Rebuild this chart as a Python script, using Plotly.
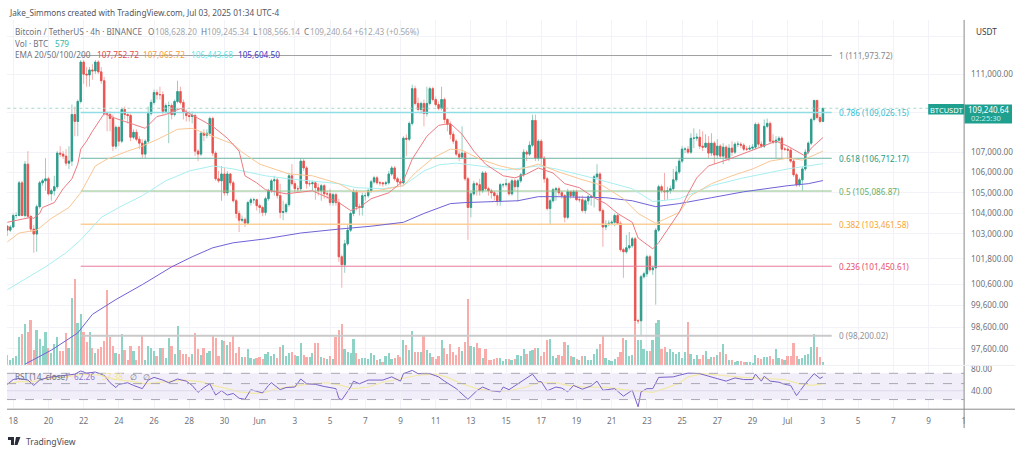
import math
import pandas as pd
import plotly.graph_objects as go

# 4h BTCUSDT candles
first_open = 103370
closes = [
    103180,103330,103890,103890,105490,103890,106420,103850,103230,102990,
    104320,105490,105590,105690,104950,105100,105300,106970,106920,106820,
    106470,106570,108920,108570,109590,111630,111000,110960,111220,111170,
    111630,111120,110660,108970,108920,108720,107320,108270,107570,109180,
    108920,108870,107770,108020,107670,107470,106920,107570,108970,109540,
    110050,109940,109940,109080,109380,109380,108920,109590,110100,109540,
    109020,108870,108820,108870,107070,106920,107970,107870,107970,108720,
    106970,105690,105590,105930,105000,105930,105490,104610,103990,103660,
    103700,103510,104520,104660,104660,104370,104280,104040,104710,105100,
    105590,105640,104860,104040,104080,104420,105840,105450,105200,105200,
    106570,106230,105450,105450,105490,105250,105100,105350,104950,104950,
    104520,104910,104520,101900,101520,102520,103180,103990,105050,104320,
    104280,104860,104860,105100,105540,105740,105490,105490,105450,105490,
    105930,106230,105690,105540,105490,107720,107670,108470,110250,109490,
    109180,109490,108970,109490,110250,109690,109430,109230,109690,108670,
    108420,107920,107570,106920,106770,106970,105690,104280,104950,105450,
    105400,105100,105980,105200,105100,105000,104860,104610,105400,105400,
    105450,104950,105590,105300,105590,105890,107020,106920,107370,108620,
    106720,107570,106720,105690,104230,104610,105150,105200,105000,104860,
    103800,105050,104860,105050,104660,104660,104130,104610,104810,104810,
    105790,105930,104130,103330,103470,103510,103560,103890,103510,102240,
    102140,102330,102430,102760,98890,98890,100950,101090,101900,101280,
    101370,103180,105300,105100,105050,105100,105200,105640,106030,106570,
    107170,107170,107020,107720,107720,107770,107320,107270,107470,106970,
    107470,106870,107320,106820,107270,106720,107220,107020,107420,107420,
    107370,107170,107170,107220,107270,108420,107420,107320,108320,108470,
    107570,107520,107620,107720,107170,107170,107120,106570,105890,105400,
    105640,106180,107020,107470,108670,109640,108770,108570,109240.64,
]
highs = [
    103420,103420,103990,104040,105590,105590,106570,107070,103890,103420,
    104420,105590,105690,106720,105790,105200,105840,107070,107320,107070,
    107170,107320,109430,109330,109690,111730,111730,111370,111370,111520,
    111730,111730,111370,110860,109080,109080,108920,108370,108320,109280,
    109330,108970,108970,108170,108170,107820,107670,107670,109330,109690,
    110200,110200,110350,110100,109490,109590,109490,109690,110660,110350,
    109690,109180,109080,109080,108970,107170,108070,108170,108170,108820,
    108820,107070,106080,106330,106230,106080,105980,105590,104710,104130,
    103890,103800,104610,104760,104760,104710,104470,104370,104810,105200,
    105690,105840,105740,105450,104610,104520,105980,106420,105590,105350,
    106720,106670,106330,105590,105590,105590,105450,105450,105450,105100,
    105200,105000,105000,104710,102000,102710,103420,104080,105200,105150,
    104470,105000,105000,105200,105640,105840,105840,105590,105540,105590,
    106080,106330,106330,105790,105690,107820,107920,108570,110450,110400,
    109790,109590,109690,110350,110350,110350,109840,109590,110350,109790,
    108720,108570,108070,107670,107070,108320,107070,105790,105050,105590,
    105540,105690,106080,106080,105300,105200,105100,105000,105490,105490,
    105690,105540,105690,105690,105690,105980,107170,107120,107570,108920,
    108920,107670,107670,106820,105790,104710,105250,105300,105300,105100,
    104950,105200,105100,105150,105150,104810,104860,104710,104910,104910,
    105890,106420,106030,104230,103660,103660,103660,103990,103990,103610,
    102330,102950,103090,102850,102850,98980,101040,101190,102000,102000,
    101470,103280,105400,105400,105980,105300,105350,106180,106330,106720,
    107320,107270,107320,107970,108220,107970,108170,108070,107920,107820,
    107970,107570,107670,107420,107470,107370,107420,107570,107520,107570,
    107520,107470,107320,107370,107420,108520,108520,107570,108670,108720,
    108570,107920,107820,107820,107820,107270,107270,107220,106670,105980,
    105740,106280,107170,107570,108770,109690,109690,108920,109245.34,
]
lows = [
    102900,103090,103280,103750,103850,103850,103800,103750,103090,102090,
    102140,104230,105350,105100,104860,104610,104860,105200,106770,106670,
    106330,106180,106330,107820,107820,109490,110500,110350,110350,110710,
    111010,111010,110500,108870,108070,108070,107070,107170,107320,107470,
    108670,108470,107570,107670,107570,107170,106720,106720,107470,108870,
    109430,109690,109690,108920,108970,107470,108670,108820,109490,109430,
    108670,108570,108570,108470,106820,106570,106820,107570,107720,107820,
    106820,105590,105490,104610,104860,104860,105350,104520,103750,103090,
    103560,103330,103420,104370,104470,104130,103990,103850,103890,104610,
    105000,104860,104710,103750,103660,103990,104320,105350,105000,105000,
    105100,106080,105200,105300,105100,104660,104860,104610,104710,104710,
    104370,104370,104370,101660,100430,101140,102430,103090,103850,104130,
    103890,103890,104610,104760,105000,105450,105400,105350,105300,105350,
    105400,105840,105590,105350,105300,105400,106820,107570,108370,109380,
    109080,108970,108320,108820,109380,109590,109330,109130,109130,108470,
    108070,107670,107420,106820,106570,106670,105590,102710,103800,104860,
    104860,104860,105000,105100,104860,104710,104610,104370,104370,105250,
    105300,104860,104860,105100,104570,105490,105790,106570,106820,107270,
    106570,106570,106380,105490,104130,103420,104520,104610,104860,104710,
    103560,103700,104710,104760,104610,104520,104040,103990,104420,104370,
    104280,105690,104040,102380,103180,103370,103420,103370,103420,102140,
    100900,102050,102240,102330,98800,98750,98230,100860,100950,101190,
    101040,99640,103090,105000,104610,104660,104950,105100,105540,105930,
    106470,106970,106920,106920,107220,107570,107170,107070,107220,106720,
    106820,106420,106720,106670,106420,106570,106570,106820,106920,107270,
    107220,107070,107070,107120,107120,107170,107270,107220,107220,108220,
    107470,107420,106720,107520,106670,107070,106670,106470,105790,105300,
    105300,105100,106080,106920,107370,108570,108670,108470,108566.14,
]
volumes = [
    1760,910,1280,1600,4640,5120,6720,5440,7360,2560,
    5760,4320,3200,5440,2880,2080,3520,4640,2400,2400,
    5280,2880,10880,13920,6880,8320,5440,3840,5440,2880,
    2080,2720,3040,4000,12160,4640,3200,2080,1920,5120,
    2560,960,3200,2400,800,3200,4800,960,3200,2880,
    2400,1600,2880,2880,1280,4480,3200,1920,6400,2560,
    1920,1920,1440,1920,5280,2720,1760,2880,2080,2400,
    4800,4480,1600,4160,4000,3360,3840,4800,2080,3040,
    1440,1440,2720,1280,1120,1280,1440,1120,1920,2240,
    1600,1920,1280,3040,3360,1600,2080,2240,1760,1600,
    3680,1760,1440,1440,2080,3680,3680,1440,1280,1120,
    1600,1120,4640,5760,6720,2720,2240,2080,4320,2080,
    1120,1280,1280,1120,2080,1760,800,1120,480,1600,
    2080,1120,1280,1760,1440,4160,3360,2560,5600,2240,
    2240,2240,4960,2560,2080,1440,1120,1600,4160,2880,
    1920,3520,2240,1760,3040,2400,3840,10720,3200,3040,
    3680,2880,1280,2720,960,800,1120,1280,1280,640,
    1120,1120,960,1120,1760,1600,2720,1920,2400,2560,
    2880,2880,1600,2240,4160,4320,1600,1280,1760,1600,
    3840,3360,1600,1440,1120,800,1600,1600,960,960,
    1920,2720,3520,4960,1280,800,640,1120,1440,2240,
    4480,4160,1600,1760,7040,4160,4160,2720,2400,2400,
    4160,6880,7360,2720,3040,2240,2720,2240,1920,2240,
    1280,2240,7040,1920,1120,1760,1120,1760,2400,1120,
    1440,1440,1760,2240,3520,1920,800,800,480,640,
    640,480,480,480,320,1760,1280,1120,1440,1440,
    1600,1120,2720,1280,1120,960,1600,1600,3680,1600,
    1120,1280,1760,1920,3040,5120,3040,1440,579,
]

# moving averages, read at the candles listed in each *_at list
ema20_at = [0,8,9,11,12,16,19,22,24,25,27,29,33,37,43,47,51,54,59,64,70,75,79,81,85,88,95,104,113,117,120,124,130,135,138,143,147,151,155,159,163,169,173,177,181,186,190,195,200,204,208,213,215,220,222,229,232,235,239,246,255,262,266,272,274,278]
ema20 = [103560,103800,103750,103990,104280,104520,105200,105690,106420,107170,107570,108070,108970,108720,108420,108220,108820,108920,109230,108820,108320,107720,107070,105840,105490,105150,104950,105100,104520,104130,104280,104710,105000,105590,106670,107820,108370,108470,107920,107070,106420,105840,105740,105930,106230,105980,105450,105250,104760,104470,103990,103560,102800,102280,102570,104040,104950,105740,106330,106670,107170,107570,107320,106820,107220,107752.72]
ema50_at = [0,4,10,15,21,25,30,34,41,46,52,58,63,70,77,80,86,96,104,113,118,124,130,135,139,145,151,155,161,168,174,181,187,195,203,210,215,221,229,233,240,247,254,260,266,271,278]
ema50 = [102610,103040,103180,103750,104280,105000,106330,106670,107070,107320,107720,108170,108220,107820,107420,107020,106420,105930,105840,105450,105050,105050,105200,105350,105980,106720,107170,107120,106670,106330,106130,106420,106080,105690,105350,104710,103990,103510,104040,104860,105450,105840,106180,106570,106720,106620,107065.72]
ema100_at = [0,7,13,20,25,32,38,46,54,62,70,77,88,96,113,119,128,135,142,147,153,161,170,181,187,198,213,220,229,234,240,251,266,278]
ema100 = [100340,100900,101420,102090,102710,103800,104280,104860,105590,106080,106330,106180,105840,105690,105450,105250,105200,105350,106080,106380,106470,106330,106130,106330,106180,105790,105200,104570,104710,105000,105350,105740,106180,106443.68]
ema200_at = [6,15,24,29,37,46,56,63,70,77,88,100,113,124,135,142,151,156,166,174,181,187,204,213,221,229,240,251,266,273,278]
ema200 = [96900,97540,98330,99190,99880,100580,101420,101900,102330,102570,102760,103040,103230,103370,103560,103990,104470,104520,104570,104610,104810,104810,104760,104610,104320,104470,104760,105050,105350,105450,105604.50]

rsi_at = [0,2,4,7,9,11,14,17,20,23,25,27,30,33,35,37,38,41,43,46,48,50,53,55,58,61,63,65,67,69,71,73,75,77,79,81,83,87,89,90,93,95,98,100,102,105,108,111,112,113,114,117,118,120,123,128,131,134,135,138,140,144,147,149,153,157,160,162,165,168,169,171,174,177,179,181,182,184,187,189,191,193,196,199,201,203,207,210,213,215,216,218,220,222,227,229,232,236,238,240,242,245,248,251,254,255,257,258,260,263,265,267,269,272,275,277,278]
rsi = [52,61,63,60,50,60,65,67,69,71,77,73,75,69,55,46,52,55,50,44,60,65,60,55,62,58,50,37,46,53,32,40,32,35,26,24,42,36,50,55,42,46,47,62,53,52,48,46,44,26,23,47,58,53,60,60,66,58,72,78,72,72,66,58,44,24,40,47,40,38,47,42,53,63,71,57,57,40,47,45,38,50,43,49,58,41,44,30,41,10,38,44,44,65,66,69,73,72,69,65,62,58,64,61,61,71,58,67,58,56,52,50,31,53,72,63,66]
rsi_ma_at = [0,4,9,13,20,26,32,37,43,47,54,60,66,70,75,79,84,87,92,97,103,109,113,118,123,128,135,140,146,150,155,160,166,171,177,181,187,191,197,204,210,215,220,224,229,232,237,243,251,258,265,270,274,278]
rsi_ma = [53,57,57,63,66,71,69,61,57,53,57,60,57,50,44,38,35,36,44,48,53,55,51,44,47,56,63,69,71,65,53,44,39,40,47,55,55,50,47,47,42,39,37,44,54,66,72,69,65,63,61,53,50,53]

# fib retracement
fib_levels = ["1", "0.786", "0.618", "0.5", "0.382", "0.236", "0"]
fib_prices = [111973.72, 109026.15, 106712.17, 105086.87, 103461.58, 101450.61, 98200.02]
fib_line_colors = ["#a0a0a0", "#8fdde6", "#6bb5a5", "#8ec48a", "#fbcf95", "#e8799a", "#c9c9c9"]
fib_text_colors = ["#85888f", "#35bcd0", "#1f9c85", "#68ad63", "#f7a531", "#ea4d6e", "#8f9198"]
fib_widths = [1, 1.5, 1, 1, 1.5, 1, 2]
fib_start = "2025-05-21 20:00"
fib_end = "2025-07-03 12:00"
last_price = 109240.64

price_ticks = [113000, 111000, 109000, 107000, 106000, 105000, 104000, 103000, 101800, 100600, 99600, 98600, 97600]
price_tick_text = ["", "111,000.00", "", "107,000.00", "106,000.00", "105,000.00", "104,000.00", "103,000.00",
                   "101,800.00", "100,600.00", "99,600.00", "98,600.00", "97,600.00"]
date_ticks = ["2025-05-18","2025-05-20","2025-05-22","2025-05-24","2025-05-26","2025-05-28","2025-05-30",
              "2025-06-01","2025-06-03","2025-06-05","2025-06-07","2025-06-09","2025-06-11","2025-06-13",
              "2025-06-15","2025-06-17","2025-06-19","2025-06-21","2025-06-23","2025-06-25","2025-06-27",
              "2025-06-29","2025-07-01","2025-07-03","2025-07-05","2025-07-07","2025-07-09","2025-07-11"]
date_tick_text = ["18","20","22","24","26","28","30","Jun","3","5","7","9","11","13","15","17","19","21","23",
                  "25","27","29","Jul","3","5","7","9","1"]

FONT = "Noto Sans"
GREEN = "#2b9c8c"
RED = "#e8534f"
W, H = 1024, 454

dates = pd.date_range("2025-05-17 16:00", periods=len(closes), freq="4h")
opens = [first_open] + closes[:-1]
vol_colors = ["#8fd3c7" if c >= o else "#f9adab" for o, c in zip(opens, closes)]
body_tops = [max(o, c) for o, c in zip(opens, closes)]
body_bottoms = [min(o, c) for o, c in zip(opens, closes)]


def px_x(x):
    return x / W


def px_y(y):
    return 1 - y / H


def text_at(x, y, s, color="#6f727b", size=8.2, anchor="left"):
    return dict(x=px_x(x), y=px_y(y), xref="paper", yref="paper", text=s, showarrow=False,
                xanchor=anchor, yanchor="middle", font=dict(family=FONT, size=size, color=color))


fig = go.Figure()

fig.add_trace(go.Bar(x=dates, y=volumes, marker=dict(color=vol_colors, line_width=0), width=2.0 / 2.94 * 4 * 3600 * 1000,
                     xaxis="x", yaxis="y"))

for price, color, width in zip(fib_prices, fib_line_colors, fib_widths):
    fig.add_trace(go.Scatter(x=[fib_start, fib_end], y=[price, price], mode="lines",
                             line=dict(color=color, width=width), xaxis="x", yaxis="y2"))

fig.add_trace(go.Scatter(x=[dates[0], "2025-07-10"], y=[last_price, last_price], mode="lines",
                         line=dict(color="#a9d8cf", width=1, dash="dot"), xaxis="x", yaxis="y2"))

# wicks are paler than the bodies, so they get their own trace underneath
fig.add_trace(go.Candlestick(x=dates, open=opens, high=highs, low=lows, close=closes,
                             increasing=dict(line=dict(color="#7cc0b3", width=0.8), fillcolor="#7cc0b3"),
                             decreasing=dict(line=dict(color="#f09a96", width=0.8), fillcolor="#f09a96"),
                             whiskerwidth=0, xaxis="x", yaxis="y2"))
fig.add_trace(go.Candlestick(x=dates, open=opens, high=body_tops, low=body_bottoms, close=closes,
                             increasing=dict(line=dict(color=GREEN, width=0.8), fillcolor=GREEN),
                             decreasing=dict(line=dict(color=RED, width=0.8), fillcolor=RED),
                             whiskerwidth=0, xaxis="x", yaxis="y2"))

for at, vals, color in [(ema200_at, ema200, "#6f62d6"), (ema100_at, ema100, "#a8eef0"),
                        (ema50_at, ema50, "#f9c694"), (ema20_at, ema20, "#ec7a80")]:
    fig.add_trace(go.Scatter(x=dates[at], y=vals, mode="lines", line=dict(color=color, width=1),
                             xaxis="x", yaxis="y2"))

fig.add_trace(go.Scatter(x=dates[rsi_ma_at], y=rsi_ma, mode="lines", line=dict(color="#f3e9a6", width=1.2),
                         xaxis="x", yaxis="y3"))
fig.add_trace(go.Scatter(x=dates[rsi_at], y=rsi, mode="lines", line=dict(color="#7a62c8", width=1),
                         xaxis="x", yaxis="y3"))

# layout: panes sit at fixed pixel rows
x_dom = [7 / W, 966 / W]
main_dom = [1 - 365 / H, 1 - 18 / H]
rsi_dom = [1 - 409 / H, 1 - 365 / H]
grid = "#f1f3f8"

shapes = [
    dict(type="rect", xref="x", yref="y3", x0="2025-05-17 15:30", x1="2025-07-11 00:30", y0=23.6, y1=72.6,
         fillcolor="rgba(126,87,194,0.10)", line_width=0, layer="below"),
    dict(type="line", xref="paper", yref="y3", x0=x_dom[0], x1=x_dom[1], y0=40, y1=40, line=dict(color="#ddd8ea", width=1)),
]
for level in [72.6, 53.4, 23.6]:
    shapes.append(dict(type="line", xref="paper", yref="y3", x0=x_dom[0], x1=x_dom[1], y0=level, y1=level,
                       line=dict(color="#aaa7b6", width=1, dash="dash")))
# axis frame and the price flags
shapes += [
    dict(type="line", xref="paper", yref="paper", x0=966 / W, x1=966 / W, y0=px_y(18), y1=px_y(428), line=dict(color="#8a8a8a", width=1)),
    dict(type="line", xref="paper", yref="paper", x0=7 / W, x1=1017 / W, y0=px_y(409), y1=px_y(409), line=dict(color="#8a8a8a", width=1)),
    dict(type="line", xref="paper", yref="paper", x0=7 / W, x1=1017 / W, y0=px_y(365), y1=px_y(365), line=dict(color="#eef0f4", width=1)),
    dict(type="rect", xref="paper", yref="paper", x0=930 / W, x1=966 / W, y0=px_y(113), y1=px_y(102.5), fillcolor="#1fa08f", line_width=0),
    dict(type="rect", xref="paper", yref="paper", x0=966.5 / W, x1=1014 / W, y0=px_y(122), y1=px_y(103), fillcolor="#1fa08f", line_width=0),
    # TradingView logo
    dict(type="path", xref="paper", yref="paper", fillcolor="#2a2e39", line_width=0,
         path=f"M {px_x(8)} {px_y(437)} L {px_x(14)} {px_y(437)} L {px_x(14)} {px_y(445)} L {px_x(11)} {px_y(445)} "
              f"L {px_x(11)} {px_y(440)} L {px_x(8)} {px_y(440)} Z"),
    dict(type="path", xref="paper", yref="paper", fillcolor="#2a2e39", line_width=0,
         path=f"M {px_x(16)} {px_y(437)} L {px_x(20.5)} {px_y(437)} L {px_x(17.5)} {px_y(445)} L {px_x(14.5)} {px_y(445)} Z"),
]

annotations = [
    text_at(7, 11, "Jake_Simmons created with TradingView.com, Jul 03, 2025 01:34 UTC-4", "#53565f", 8.2),
    text_at(13, 30, "Bitcoin / TetherUS · 4h · BINANCE", "#6f727b"),
    text_at(146, 30, "O", "#6f727b"), text_at(153, 30, "108,628.20", "#a3a5ab"),
    text_at(199, 30, "H", "#6f727b"), text_at(205, 30, "109,245.34", "#a3a5ab"),
    text_at(251, 30, "L", "#6f727b"), text_at(257, 30, "108,566.14", "#a3a5ab"),
    text_at(303, 30, "C", "#6f727b"), text_at(309, 30, "109,240.64", "#a3a5ab"),
    text_at(353, 30, "+612.43 (+0.56%)", "#a3a5ab"),
    text_at(13, 42, "Vol · BTC", "#6f727b"), text_at(53, 42, "579", "#3eb5a2"),
    text_at(13, 53, "EMA 20/50/100/200", "#6f727b"),
    text_at(95, 53, "107,752.72", "#e5484d"), text_at(141, 53, "107,065.72", "#f79b3c"),
    text_at(189, 53, "106,443.68", "#5fe6ea"), text_at(236, 53, "105,604.50", "#3f35c8"),
    text_at(13, 376, "RSI (14, close)", "#6f727b"), text_at(72, 376, "62.26", "#8d76d0"),
    text_at(100, 376, "57.38", "#f1e38f"),
    text_at(128, 376, "∅", "#6f727b", 8), text_at(141, 376, "∅", "#6f727b", 8),
    text_at(24, 442, "TradingView", "#4a4d57", 8.6),
    text_at(976, 30, "USDT", "#3a3d46", 8.2),
    text_at(948, 108, "BTCUSDT", "#ffffff", 7.5, "center"),
    text_at(990, 108, "109,240.64", "#ffffff", 8, "center"),
    text_at(988, 117, "02:25:30", "#c6ebe5", 7.5, "center"),
]
for level, price, color in zip(fib_levels, fib_prices, fib_text_colors):
    # annotations on a log axis take log10 of the value
    annotations.append(dict(x=fib_end, y=math.log10(price), xref="x", yref="y2", xshift=5,
                            text=f"{level} ({price:,.2f})", showarrow=False, xanchor="left", yanchor="middle",
                            font=dict(family=FONT, size=8.2, color=color)))

fig.update_layout(
    width=W, height=H, margin=dict(l=0, r=0, t=0, b=0), autosize=False,
    paper_bgcolor="white", plot_bgcolor="white", showlegend=False, bargap=0,
    font=dict(family=FONT, size=8.2, color="#6f727b"),
    xaxis=dict(domain=x_dom, anchor="y3", type="date", range=["2025-05-17 15:30", "2025-07-11 00:30"],
               tickvals=date_ticks, ticktext=date_tick_text, tickangle=0, ticks="", ticklabelstandoff=6,
               showgrid=True, gridcolor=grid, gridwidth=1, zeroline=False, showline=False,
               rangeslider=dict(visible=False), tickfont=dict(family=FONT, size=8.2, color="#6f727b")),
    yaxis=dict(domain=main_dom, anchor="x", range=[0, 55520], visible=False, showgrid=False),
    yaxis2=dict(domain=main_dom, anchor="x", overlaying="y", side="right", type="log",
                range=[4.98608, 5.05636], tickvals=price_ticks, ticktext=price_tick_text, ticks="",
                ticklabelstandoff=6, showgrid=True, gridcolor=grid, zeroline=False, showline=False,
                tickfont=dict(family=FONT, size=8.2, color="#6f727b")),
    yaxis3=dict(domain=rsi_dom, anchor="x", side="right", range=[5.6, 87.4], tickvals=[80, 40],
                ticktext=["80.00", "40.00"], ticks="", ticklabelstandoff=6, showgrid=False, zeroline=False,
                showline=False, tickfont=dict(family=FONT, size=8.2, color="#6f727b")),
    shapes=shapes, annotations=annotations,
)

# the browser's default body margin would push the fixed-size plot off by 8px
fig.write_html("out.html", config={"displayModeBar": False}, post_script="document.body.style.margin='0';")
